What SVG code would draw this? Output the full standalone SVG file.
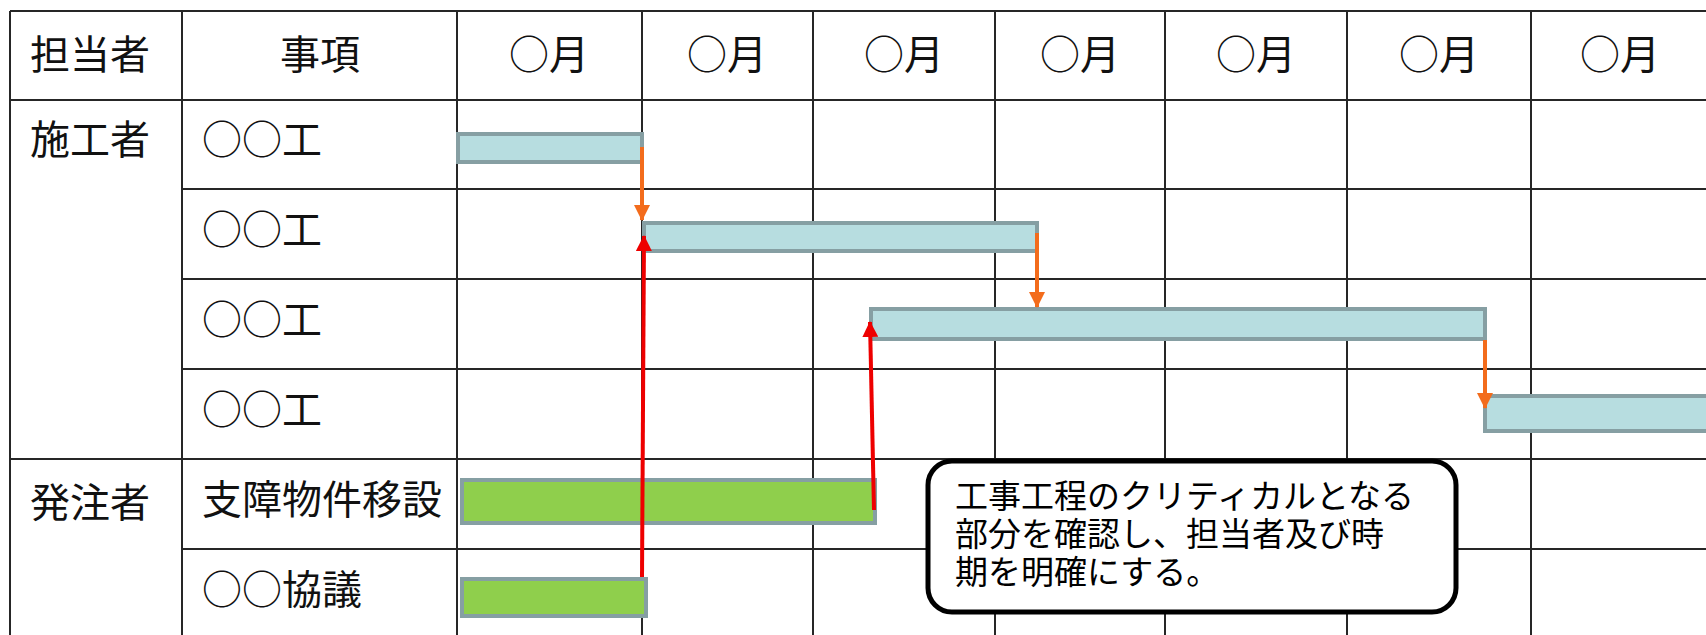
<svg xmlns="http://www.w3.org/2000/svg" width="1706" height="635" viewBox="0 0 1706 635">
<style>
.grid{stroke:#262626;stroke-width:2;fill:none}
.t{font-family:"Noto Sans CJK JP","Noto Sans",sans-serif;font-size:40px;fill:#111}
.hc{text-anchor:middle}
.blue{fill:#b7dde0;stroke:#869fa3;stroke-width:4}
.green{fill:#8fcf4c;stroke:#869fa3;stroke-width:4}
.oa{stroke:#f36c1c;stroke-width:4;fill:none}
.ra{stroke:#ee0000;stroke-width:4;fill:none}
.note{fill:#fff;stroke:#000;stroke-width:5}
.nt{font-family:"Noto Sans CJK JP","Noto Sans",sans-serif;font-size:33px;fill:#000}
</style>
<defs>
<marker id="ao" markerUnits="userSpaceOnUse" markerWidth="18" markerHeight="16" refX="15" refY="8" orient="auto">
<path d="M0,0 L16,8 L0,16 Z" fill="#f36c1c"/>
</marker>
<marker id="ar" markerUnits="userSpaceOnUse" markerWidth="18" markerHeight="16" refX="15" refY="8" orient="auto">
<path d="M0,0 L16,8 L0,16 Z" fill="#ee0000"/>
</marker>
</defs>
<rect width="1706" height="635" fill="#fff"/>
<g id="grid" class="grid">
<path d="M10,11H1706M10,100H1706M182,189H1706M182,279H1706M182,369H1706M10,459H1706M182,549H1706"/>
<path d="M10,11V635M182,11V635M457,11V635M642,11V635M813,11V635M995,11V635M1165,11V635M1347,11V635M1531,11V635"/>
</g>
<g id="header">
<text class="t" x="30" y="69">担当者</text>
<text class="t hc" x="320" y="69">事項</text>
<text class="t hc" x="549" y="69">○月</text>
<text class="t hc" x="727" y="69">○月</text>
<text class="t hc" x="904" y="69">○月</text>
<text class="t hc" x="1080" y="69">○月</text>
<text class="t hc" x="1256" y="69">○月</text>
<text class="t hc" x="1439" y="69">○月</text>
<text class="t hc" x="1620" y="69">○月</text>
</g>
<g id="labels">
<text class="t" x="30" y="154">施工者</text>
<text class="t" x="30" y="517">発注者</text>
<text class="t" x="202" y="154">○○工</text>
<text class="t" x="202" y="244">○○工</text>
<text class="t" x="202" y="334">○○工</text>
<text class="t" x="202" y="424">○○工</text>
<text class="t" x="202" y="514">支障物件移設</text>
<text class="t" x="202" y="604">○○協議</text>
</g>
<g id="bar1"><rect class="blue" x="458" y="134" width="184" height="28"/></g>
<g id="bar2"><rect class="blue" x="644" y="223" width="393" height="28"/></g>
<g id="bar3"><rect class="blue" x="871" y="309" width="614" height="30"/></g>
<g id="bar4"><rect class="blue" x="1485" y="396" width="230" height="35"/></g>
<g id="bar5"><rect class="green" x="462" y="480" width="413" height="43"/></g>
<g id="bar6"><rect class="green" x="462" y="579" width="184" height="37"/></g>
<g id="connectors">
<path class="oa" d="M642,147V220" marker-end="url(#ao)"/>
<path class="oa" d="M1037,233V307" marker-end="url(#ao)"/>
<path class="oa" d="M1485,340V408" marker-end="url(#ao)"/>
<path class="ra" d="M642,577L644,236" marker-end="url(#ar)"/>
<path class="ra" d="M874,510L870,322" marker-end="url(#ar)"/>
</g>
<g id="note">
<rect class="note" x="928" y="461" width="528" height="151" rx="24"/>
<text class="nt"><tspan x="955" y="508">工事工程のクリティカルとなる</tspan><tspan x="955" y="546">部分を確認し、担当者及び時</tspan><tspan x="955" y="584">期を明確にする。</tspan></text>
</g>
</svg>
